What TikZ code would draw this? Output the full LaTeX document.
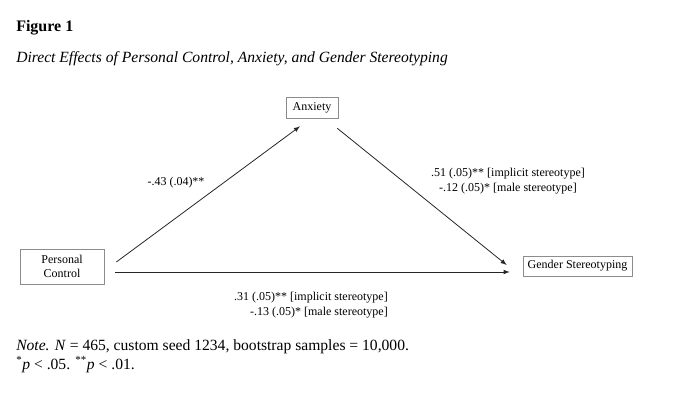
\documentclass[tikz,border=0pt]{standalone}
\usepackage{fontspec}
\setmainfont{Liberation Serif}
\begin{document}
\begin{tikzpicture}[x=0.75pt,y=-0.75pt,
	var/.style={draw=black!45,line width=0.5pt,inner sep=0pt,align=center,font=\fontsize{9}{10.5}\selectfont},
	eff/.style={draw=black!85,line width=0.6pt,-latex},
	coef/.style={inner sep=0pt,font=\fontsize{9}{10.8}\selectfont},
	txt/.style={inner sep=0pt,anchor=base west}]
	\useasboundingbox (0,0) rectangle (680,393);
	\node[txt,font=\bfseries\fontsize{12}{14}\selectfont] (fig) at (16,31) {Figure 1};
	\node[txt,font=\itshape\fontsize{11.7}{14}\selectfont] (ttl) at (16,62) {Direct Effects of Personal Control, Anxiety, and Gender Stereotyping};
	% variables
	\node[var,minimum width=39pt,minimum height=15.75pt] (anx) at (312,107.5) {Anxiety};
	\node[var,minimum width=63pt,minimum height=26.25pt] (pc) at (62,266.5) {Personal\\Control};
	\node[var,minimum width=81.75pt,minimum height=15pt] (gs) at (577.5,266) {Gender Stereotyping};
	% arrow ends
	\coordinate (pcA) at ([shift={(12,-4.5)}]pc.east);
	\coordinate (pcG) at ([shift={(11,5.5)}]pc.east);
	\coordinate (anxP) at ([shift={(-12,8)}]anx.south);
	\coordinate (anxG) at ([shift={(-1,10)}]anx.south east);
	\coordinate (gsA) at ([shift={(-16,-1)}]gs.west);
	\coordinate (gsP) at ([shift={(-13,6)}]gs.west);
	\draw[eff] (pcA) -- (anxP);
	\draw[eff] (anxG) -- (gsA);
	\draw[eff] (pcG) -- (gsP);
	% coefficients
	\node[coef] (ca) at (176,183) {-.43 (.04)**};
	\node[coef,align=center] (cb) at (508,181) {.51 (.05)** [implicit stereotype]\\-.12 (.05)* [male stereotype]};
	\node[coef,align=right,anchor=east] (cc) at (388,305) {.31 (.05)** [implicit stereotype]\\-.13 (.05)* [male stereotype]};
	% note
	\node[txt,font=\fontsize{11.7}{14}\selectfont] (note) at (16,350) {\textit{Note.} \textit{N} = 465, custom seed 1234, bootstrap samples = 10,000.};
	\node[txt,font=\fontsize{11.7}{14}\selectfont] (sig) at (16,369) {\textsuperscript{*}\textit{p} < .05. \textsuperscript{**}\textit{p} < .01.};
\end{tikzpicture}
\end{document}
